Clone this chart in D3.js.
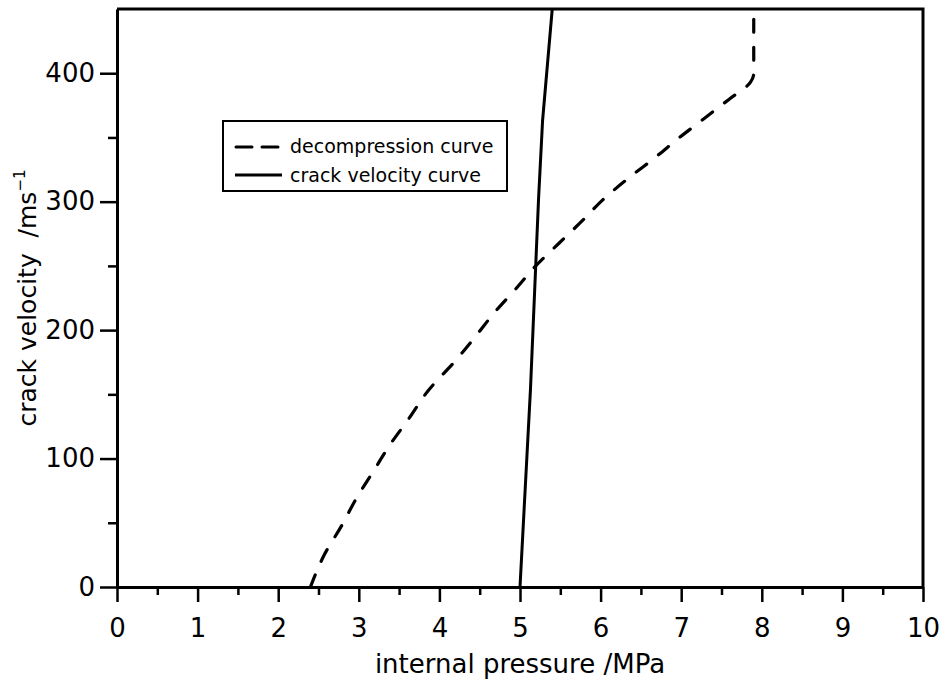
<!DOCTYPE html>
<html><head><meta charset="utf-8">
<script src="https://cdn.jsdelivr.net/npm/d3@7"></script>
<style>body{margin:0;background:#fff}svg{display:block}</style>
</head><body><svg id="c" width="943" height="686"></svg>
<script>
const xTicks = [0,1,2,3,4,5,6,7,8,9,10];
const xMinor = [0.5,1.5,2.5,3.5,4.5,5.5,6.5,7.5,8.5,9.5];
const yTicks = [0,100,200,300,400];
const yMinor = [50,150,250,350];
// decompression curve (dashed)
const decompP = [2.40,2.58,2.78,2.97,3.18,3.39,3.62,3.85,4.21,4.46,4.66,4.96,5.18,5.49,5.77,6.02,6.36,6.67,6.98,7.29,7.60,7.86,7.90,7.90];
const decompV = [0,26,47,69,90,111,131,152,177,196,212,233,249,268,285,301,319,334,350,365,380,393,400,450];
// crack velocity curve (solid)
const crackP = [5.00,5.13,5.23,5.28,5.40];
const crackV = [0,154,302,363,450];
const legendLabels = ["decompression curve","crack velocity curve"];
const xTitle = "internal pressure /MPa";

const W=943,H=686, m={l:117,r:20,t:9,b:99};
const svg=d3.select("#c");
const font='"DejaVu Sans", sans-serif';
const x=d3.scaleLinear().domain([0,10]).range([m.l,W-m.r]);
const y=d3.scaleLinear().domain([0,450]).range([H-m.b,m.t]);
const lw=3;

// frame top and right
svg.append("path").attr("d",`M${x(0)},${y(450)}H${x(10)}V${y(0)}`).attr("fill","none").attr("stroke","#000").attr("stroke-width",lw);

// x axis
const gx=svg.append("g").attr("transform",`translate(0,${y(0)})`);
gx.call(d3.axisBottom(x).tickValues(xTicks).tickSize(15).tickPadding(17).tickSizeOuter(0).tickFormat(d3.format("d")));
gx.append("g").call(d3.axisBottom(x).tickValues(xMinor).tickSize(8).tickFormat("")).select(".domain").remove();
gx.selectAll("line").attr("stroke-width",2.5);
gx.selectAll(".domain").attr("stroke-width",lw);
gx.selectAll("text").attr("font-family",font).attr("font-size",26).attr("fill","#000");

// y axis
const gy=svg.append("g").attr("transform",`translate(${x(0)},0)`);
gy.call(d3.axisLeft(y).tickValues(yTicks).tickSize(17).tickPadding(5).tickSizeOuter(0).tickFormat(d3.format("d")));
gy.append("g").call(d3.axisLeft(y).tickValues(yMinor).tickSize(9).tickFormat("")).select(".domain").remove();
gy.selectAll("line").attr("stroke-width",2.5);
gy.selectAll(".domain").attr("stroke-width",lw);
gy.selectAll("text").attr("font-family",font).attr("font-size",26).attr("fill","#000");

// curves
const line=d3.line().x(d=>x(d[0])).y(d=>y(d[1])).curve(d3.curveMonotoneY);
svg.append("path").datum(decompP.map((p,i)=>[p,decompV[i]]))
  .attr("d",line).attr("fill","none").attr("stroke","#000").attr("stroke-width",3.2)
  .attr("stroke-linecap","round").attr("stroke-linejoin","round").attr("stroke-dasharray","13,15");
svg.append("path").datum(crackP.map((p,i)=>[p,crackV[i]]))
  .attr("d",d3.line().x(d=>x(d[0])).y(d=>y(d[1]))).attr("fill","none").attr("stroke","#000").attr("stroke-width",3)
  .attr("stroke-linejoin","round");

// legend
const lg=svg.append("g");
lg.append("rect").attr("x",223).attr("y",121).attr("width",284).attr("height",70)
  .attr("fill","#fff").attr("stroke","#000").attr("stroke-width",2);
lg.append("line").attr("x1",236).attr("x2",282).attr("y1",147).attr("y2",147)
  .attr("stroke","#000").attr("stroke-width",3).attr("stroke-linecap","round").attr("stroke-dasharray","16,10");
lg.append("line").attr("x1",235).attr("x2",282).attr("y1",175).attr("y2",175)
  .attr("stroke","#000").attr("stroke-width",3);
lg.selectAll("text.l").data(legendLabels).join("text").attr("class","l")
  .attr("x",290).attr("y",(d,i)=>153+i*29).text(d=>d)
  .attr("font-family",font).attr("font-size",19).attr("fill","#000");

// axis titles
svg.append("text").attr("x",(x(0)+x(10))/2).attr("y",673).attr("text-anchor","middle")
  .attr("font-family",font).attr("font-size",26).attr("fill","#000").text(xTitle);
const yt=svg.append("text").attr("transform",`translate(36,${y(225)}) rotate(-90)`).attr("text-anchor","middle")
  .attr("font-family",font).attr("font-size",25).attr("fill","#000").attr("xml:space","preserve");
yt.append("tspan").text("crack velocity  /ms");
yt.append("tspan").attr("dy",-11).attr("font-size",15).text("−1");
</script></body></html>
